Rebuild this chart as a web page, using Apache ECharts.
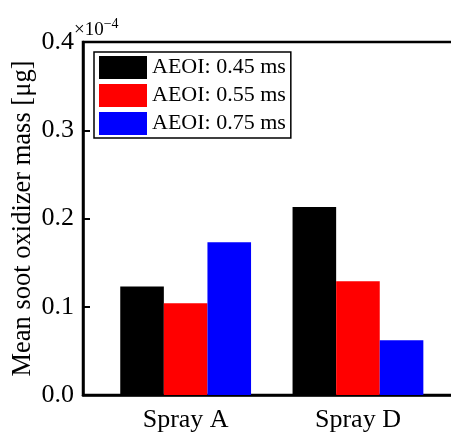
<!DOCTYPE html>
<html>
<head>
<meta charset="utf-8">
<script src="https://cdn.jsdelivr.net/npm/echarts@6/dist/echarts.min.js"></script>
<style>
  html, body { margin: 0; padding: 0; background: #fff; }
</style>
</head>
<body>
<div id="main" style="width: 451px;height:435px;"></div>
<script>
// data (values in units of 1e-4 ug)
var categories = ['Spray A', 'Spray D']
var seriesNames = ['AEOI: 0.45 ms', 'AEOI: 0.55 ms', 'AEOI: 0.75 ms']
var aeoi045 = [0.123, 0.213]
var aeoi055 = [0.104, 0.129]
var aeoi075 = [0.173, 0.062]
var yTicks = [0.0, 0.1, 0.2, 0.3, 0.4]

var colors = ['#000000', '#ff0000', '#0000ff']
var font = 'Liberation Serif'

var myChart = echarts.init(document.getElementById('main'))

// grid 0 = frame + y axis, grid 1 = bars (categories sit a bit right of frame centre)
var option = {
  animation: false,
  textStyle: { fontFamily: font },
  grid: [
    {
      left: 83, top: 42, width: 378, height: 353,
      outerBoundsMode: 'none', containLabel: false,
      show: true, borderColor: '#000', borderWidth: 2.5, backgroundColor: 'transparent'
    },
    {
      left: 99.5, top: 42, width: 344.6, height: 353,
      outerBoundsMode: 'none', containLabel: false
    }
  ],
  legend: {
    data: seriesNames,
    orient: 'vertical',
    left: 94,
    top: 52,
    padding: [4, 5, 3, 5],
    itemWidth: 48,
    itemHeight: 23,
    itemGap: 5,
    icon: 'rect',
    borderColor: '#000',
    borderWidth: 1.5,
    backgroundColor: '#fff',
    textStyle: { fontFamily: font, fontSize: 22, color: '#000' }
  },
  xAxis: [
    {
      gridIndex: 0,
      type: 'category',
      data: categories,
      axisLine: { lineStyle: { color: '#000', width: 2.5 } },
      axisTick: { show: false },
      axisLabel: { show: false }
    },
    {
      gridIndex: 1,
      type: 'category',
      data: categories,
      axisLine: { show: false },
      axisTick: { show: false },
      axisLabel: { fontFamily: font, fontSize: 26, color: '#000', margin: 12 }
    }
  ],
  yAxis: [
    {
      gridIndex: 0,
      type: 'value',
      min: yTicks[0],
      max: yTicks[yTicks.length - 1],
      interval: 0.1,
      name: 'Mean soot oxidizer mass [\u03bcg]',
      nameLocation: 'middle',
      nameGap: 46,
      nameMoveOverlap: false,
      nameTextStyle: { fontFamily: font, fontSize: 26.5, color: '#000' },
      splitLine: { show: false },
      axisLine: { show: true, lineStyle: { color: '#000', width: 2.5 } },
      axisTick: { show: true, inside: true, length: 7, lineStyle: { color: '#000', width: 2 } },
      axisLabel: {
        fontFamily: font,
        fontSize: 26,
        color: '#000',
        margin: 9,
        formatter: function (v) { return v.toFixed(1) }
      }
    },
    {
      gridIndex: 1,
      type: 'value',
      min: yTicks[0],
      max: yTicks[yTicks.length - 1],
      interval: 0.1,
      show: false,
      splitLine: { show: false }
    }
  ],
  graphic: [
    {
      type: 'text',
      left: 74,
      top: 17,
      style: {
        text: '{a|\u00d710}{b|\u22124}',
        rich: {
          a: { fontFamily: font, fontSize: 19, fill: '#000', verticalAlign: 'bottom' },
          b: { fontFamily: font, fontSize: 14, fill: '#000', verticalAlign: 'top', padding: [0, 0, 9, 0] }
        }
      }
    }
  ],
  series: [
    { name: seriesNames[0], type: 'bar', xAxisIndex: 1, yAxisIndex: 1, data: aeoi045, barWidth: 43.6, barGap: 0, itemStyle: { color: colors[0] } },
    { name: seriesNames[1], type: 'bar', xAxisIndex: 1, yAxisIndex: 1, data: aeoi055, barWidth: 43.6, barGap: 0, itemStyle: { color: colors[1] } },
    { name: seriesNames[2], type: 'bar', xAxisIndex: 1, yAxisIndex: 1, data: aeoi075, barWidth: 43.6, barGap: 0, itemStyle: { color: colors[2] } }
  ]
}

myChart.setOption(option)
</script>
</body>
</html>
